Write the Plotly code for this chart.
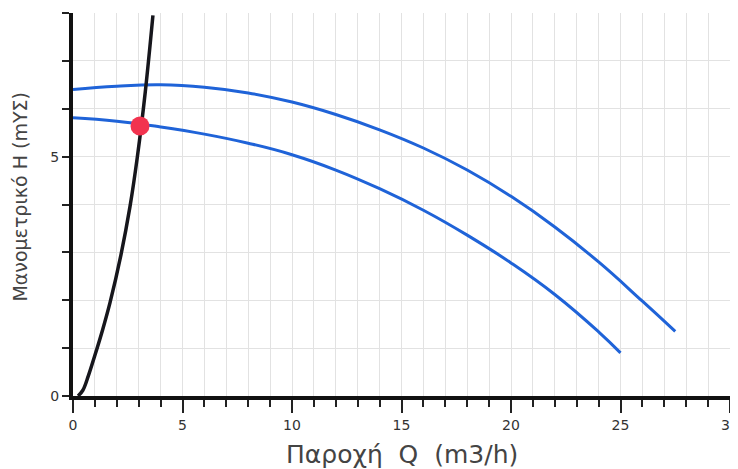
import plotly.graph_objects as go

# System curve (black)
sys_q = [0.23, 0.45, 0.7, 1.0, 1.35, 1.69, 2.19, 2.6, 2.94, 3.3, 3.65]
sys_h = [0.0, 0.12, 0.42, 0.85, 1.38, 1.95, 2.95, 3.95, 5.0, 6.35, 7.95]

# Pump curve, high speed
up_q = [0, 2, 4, 6, 8, 10, 12, 14, 16, 18, 20, 22, 24, 26, 27.5]
up_h = [6.40, 6.47, 6.50, 6.45, 6.33, 6.14, 5.88, 5.56, 5.18, 4.72, 4.17, 3.53, 2.80, 1.98, 1.35]

# Pump curve, low speed
lo_q = [0, 2, 4, 6, 8, 10, 12, 14, 16, 18, 20, 22, 24, 25]
lo_h = [5.81, 5.74, 5.62, 5.47, 5.28, 5.04, 4.72, 4.33, 3.88, 3.36, 2.78, 2.12, 1.34, 0.90]

# Operating point
op_q = [3.06]
op_h = [5.64]

x_ticks = [0, 5, 10, 15, 20, 25, 30]
y_ticks = [0, 5]

x_title = "Παροχή Q (m3/h)"
y_title = "Μανομετρικό H (mYΣ)"

fig = go.Figure()
fig.add_trace(go.Scatter(x=up_q, y=up_h, mode="lines",
                         line=dict(color="#1f63d8", width=3, shape="spline", smoothing=1.3),
                         hoverinfo="skip"))
fig.add_trace(go.Scatter(x=lo_q, y=lo_h, mode="lines",
                         line=dict(color="#1f63d8", width=3, shape="spline", smoothing=1.3),
                         hoverinfo="skip"))
fig.add_trace(go.Scatter(x=sys_q, y=sys_h, mode="lines",
                         line=dict(color="#16161c", width=3.5, shape="spline", smoothing=1.0),
                         hoverinfo="skip"))
fig.add_trace(go.Scatter(x=op_q, y=op_h, mode="markers", marker=dict(color="#f2334f", size=19),
                         hoverinfo="skip"))

axis_font = dict(family="DejaVu Sans", size=14, color="#333333")
grid = "#e2e2e2"

# the page adds an 8px body margin, so the figure is sized to sit inside the window
fig.update_layout(
    width=730, height=461,
    margin=dict(l=65, r=8, t=5, b=73),
    paper_bgcolor="white", plot_bgcolor="white",
    showlegend=False,
    xaxis=dict(
        range=[0, 30], tickmode="array", tickvals=x_ticks, ticktext=[str(v) for v in x_ticks],
        ticks="outside", ticklen=13, tickwidth=2, tickcolor="#222222",
        showline=True, linewidth=4, linecolor="#111111",
        showgrid=True, gridcolor=grid, gridwidth=1, zeroline=False,
        minor=dict(dtick=1, tick0=0, ticks="outside", ticklen=7, tickwidth=2, tickcolor="#222222",
                   showgrid=True, gridcolor=grid, gridwidth=1),
        tickfont=axis_font, automargin=False, ticklabeloverflow="allow",
    ),
    yaxis=dict(
        range=[0, 8], tickmode="array", tickvals=y_ticks, ticktext=[str(v) for v in y_ticks],
        ticks="outside", ticklen=7, tickwidth=2, tickcolor="#222222",
        showline=True, linewidth=4, linecolor="#111111",
        showgrid=True, gridcolor=grid, gridwidth=1, zeroline=False,
        minor=dict(dtick=1, tick0=0, ticks="outside", ticklen=7, tickwidth=2, tickcolor="#222222",
                   showgrid=True, gridcolor=grid, gridwidth=1),
        tickfont=axis_font, automargin=False, ticklabeloverflow="allow",
    ),
    annotations=[
        dict(text=x_title.replace(" ", "\u00a0\u00a0"), xref="paper", yref="paper",
             x=0.5, y=-0.154, xanchor="center", yanchor="middle",
             showarrow=False, font=dict(family="DejaVu Sans", size=25, color="#444444")),
        dict(text=y_title.replace(" ", "\u00a0"), xref="paper", yref="paper",
             x=-0.081, y=0.52, xanchor="center", yanchor="middle", textangle=-90,
             showarrow=False, font=dict(family="DejaVu Sans", size=19, color="#444444")),
    ],
)

fig.write_html("out.html")
